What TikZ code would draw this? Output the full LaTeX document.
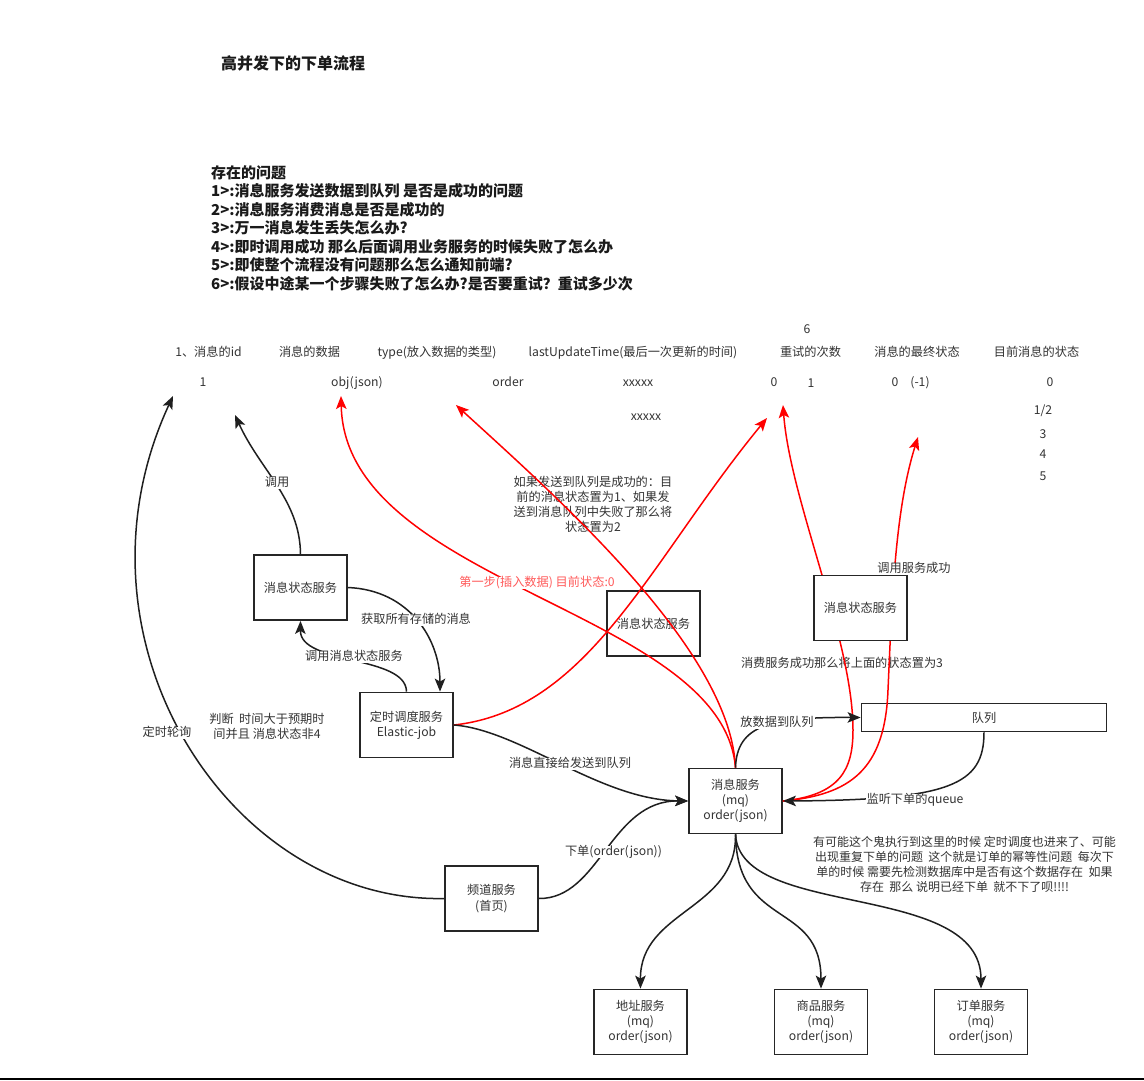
\documentclass[tikz,border=0pt]{standalone}
\usepackage{fontspec}
\setmainfont{Noto Sans CJK SC}
\usetikzlibrary{arrows.meta,calc}
\definecolor{ink}{HTML}{333333}
\definecolor{frame}{HTML}{262626}
\definecolor{wire}{HTML}{1F1F1F}
\definecolor{hot}{HTML}{FF0000}
\definecolor{hottext}{HTML}{FF5A5A}
\definecolor{headink}{HTML}{1A1A1A}
\newcommand\regtext{\fontsize{12.2}{15.2}\selectfont}
\newcommand\listtext{\fontsize{15}{19}\selectfont\bfseries}
\newcommand\titletext{\fontsize{16}{20}\selectfont\bfseries}
\begin{document}
\begin{tikzpicture}[x=1pt,y=-1pt,
  txt/.style={inner sep=0pt, text=ink, font=\regtext, text height=0.88em, text depth=0.12em},
  para/.style={inner sep=0pt, text=ink, font=\regtext, align=center},
  lbl/.style={txt, fill=white, inner xsep=1pt, inner ysep=1pt},
  head/.style={inner sep=0pt, anchor=base west, text=headink, font=\listtext},
  box/.style={draw=frame, line width=1.8pt, fill=white, minimum width=93pt, minimum height=65pt,
              inner sep=2pt, align=center, font=\regtext, text=ink},
  link/.style={draw=wire, line width=1.5pt, -{Stealth[length=13pt,width=10.5pt,inset=3pt]}},
  redlink/.style={draw=hot, line width=1.5pt, -{Stealth[length=13pt,width=10.5pt,inset=3pt]}}]

\fill[white] (0,0) rectangle (1144,1080);
\useasboundingbox (0,0) rectangle (1144,1080);

% title and list of open questions
\node[inner sep=0pt, anchor=base west, text=headink, font=\titletext] (title) at (221,69) {高并发下的下单流程};
\node[head] (q0) at (211,178.2) {存在的问题};
\node[head] (q1) at (211,196.7) {1>:消息服务发送数据到队列 是否是成功的问题};
\node[head] (q2) at (211,215.2) {2>:消息服务消费消息是否是成功的};
\node[head] (q3) at (211,233.7) {3>:万一消息发生丢失怎么办?};
\node[head] (q4) at (211,252.2) {4>:即时调用成功 那么后面调用业务服务的时候失败了怎么办};
\node[head] (q5) at (211,270.7) {5>:即使整个流程没有问题那么怎么通知前端?};
\node[head] (q6) at (211,289.2) {6>:假设中途某一个步骤失败了怎么办?是否要重试？重试多少次};

% message table: column headers
\node[txt] (six) at (807,330) {6};
\node[txt] (cId) at (208.5,353) {1、消息的id};
\node[txt] (cData) at (309.5,353) {消息的数据};
\node[txt] (cType) at (437,353) {type(放入数据的类型)};
\node[txt] (cTime) at (633,353) {lastUpdateTime(最后一次更新的时间)};
\node[txt] (cRetry) at (810.5,353) {重试的次数};
\node[txt] (cFinal) at (917,353) {消息的最终状态};
\node[txt] (cNow) at (1036.5,353) {目前消息的状态};

% message table: values
\node[txt] (vId) at (203,383) {1};
\node[txt] (vData) at (357,383) {obj(json)};
\node[txt] (vType) at (508,383) {order};
\node[txt] (vTime) at (638,383) {xxxxx};
\node[txt] (vTimeB) at (646,417) {xxxxx};
\node[txt] (vRetry) at (774,383) {0};
\node[txt] (vRetryB) at (811,384) {1};
\node[txt] (vFinal) at (895,383) {0};
\node[txt] (vFinalB) at (920,383) {(-1)};
\node[txt] (vNow) at (1050,383) {0};
\node[txt] (vNow12) at (1043,411) {1/2};
\node[txt] (vNow3) at (1043,435) {3};
\node[txt] (vNow4) at (1043,455) {4};
\node[txt] (vNow5) at (1043,477) {5};

% free-standing notes
\node[para] (noteSend) at (593,504.5) {如果发送到队列是成功的：目\\前的消息状态置为1、如果发\\送到消息队列中失败了那么将\\状态置为2};
\node[para] (noteJudge) at (267,726) {判断~~时间大于预期时\\间并且 消息状态非4};
\node[para, font=\fontsize{12}{15}\selectfont] (noteIdem) at (964.5,864.5) {有可能这个鬼执行到这里的时候 定时调度也进来了、可能\\出现重复下单的问题~~这个就是订单的幂等性问题~~每次下\\单的时候 需要先检测数据库中是否有这个数据存在~~如果\\存在~~那么 说明已经下单~~就不下了呗!!!!};
\node[txt] (lConsume) at (842,664) {消费服务成功那么将上面的状态置为3};

% services
\node[box] (stA) at (300.5,587.5) {消息状态服务};
\node[box] (cron) at (406.5,725) {定时调度服务\\Elastic-job};
\node[box] (stC) at (653.5,623.5) {消息状态服务};
\node[box, minimum width=245pt, minimum height=28pt] (queue) at (984,717.5) {队列};
\node[box] (mq) at (735.5,801) {消息服务\\(mq)\\order(json)};
\node[box] (chan) at (491.5,898.5) {频道服务\\(首页)};
\node[box] (addr) at (640.5,1022) {地址服务\\(mq)\\order(json)};
\node[box] (goods) at (821,1022) {商品服务\\(mq)\\order(json)};
\node[box] (ord) at (981,1022) {订单服务\\(mq)\\order(json)};

% status updates written back into the table (red)
\coordinate (tObj) at (341,396);
\coordinate (tType) at (456,405);
\coordinate (tRetryA) at (767,418);
\coordinate (tRetryB) at (783,405);
\coordinate (tFinal) at (918,437);
\draw[redlink] (mq.north) .. controls (722,610) and (345,585) .. (tObj);
\draw[redlink] (mq.north) .. controls (730,650) and (560,500) .. (tType);
\draw[redlink] (cron.east) .. controls (590,710) and (650,560) .. (tRetryA);
\draw[redlink] (mq.east) .. controls (840,795) and (853,770) .. (853,730)
                         .. controls (853,640) and (790,500) .. (tRetryB);
\draw[redlink] (mq.east) .. controls (850,795) and (885,770) .. (888,690)
                         .. controls (892,600) and (895,510) .. (tFinal);

\node[box] (stD) at (860.5,608) {消息状态服务};
\node[lbl, text=hottext] (stepOne) at (537,583) {第一步(插入数据) 目前状态:0};

% black flow
\coordinate (tId) at (173,396);
\coordinate (tIdB) at (235,415);
\draw[link] (stA.north) .. controls (300,500) and (260,470) .. (tIdB);
\draw[link] (chan.west) .. controls (230,903) and (60,640) .. (tId);
\draw[link] (stA.east) .. controls (410,590) and (440,640) .. ($(cron.north)+(33.5,0)$);
\draw[link] (cron.north) .. controls (406,655) and (300,665) .. (stA.south);
\draw[link] (cron.east) .. controls (520,730) and (600,800) .. (mq.west);
\draw[link] (chan.east) .. controls (600,899) and (610,800) .. (mq.west);
\draw[link] (mq.north) .. controls (737,725) and (770,717) .. (queue.west);
\draw[link] (queue.south) .. controls (984,785) and (950,800) .. (mq.east);
\draw[link] (mq.south) .. controls (737,910) and (640,910) .. (addr.north);
\draw[link] (mq.south) .. controls (737,930) and (821,900) .. (goods.north);
\draw[link] (mq.south) .. controls (740,920) and (981,880) .. (ord.north);

% connector labels
\node[lbl] (lCall) at (277,483) {调用};
\node[lbl] (lFetch) at (416,620) {获取所有存储的消息};
\node[lbl] (lInvoke) at (354,657) {调用消息状态服务};
\node[lbl] (lPoll) at (167,733) {定时轮询};
\node[lbl] (lDirect) at (570,764) {消息直接给发送到队列};
\node[lbl] (lOrder) at (613.5,852) {下单(order(json))};
\node[lbl] (lPut) at (777,723) {放数据到队列};
\node[lbl] (lListen) at (915,800) {监听下单的queue};
\node[lbl] (lOk) at (914,569) {调用服务成功};

% page rule along the bottom
\draw[line width=2pt, black] (0,1078.5) -- (1144,1078.5);
\end{tikzpicture}
\end{document}
